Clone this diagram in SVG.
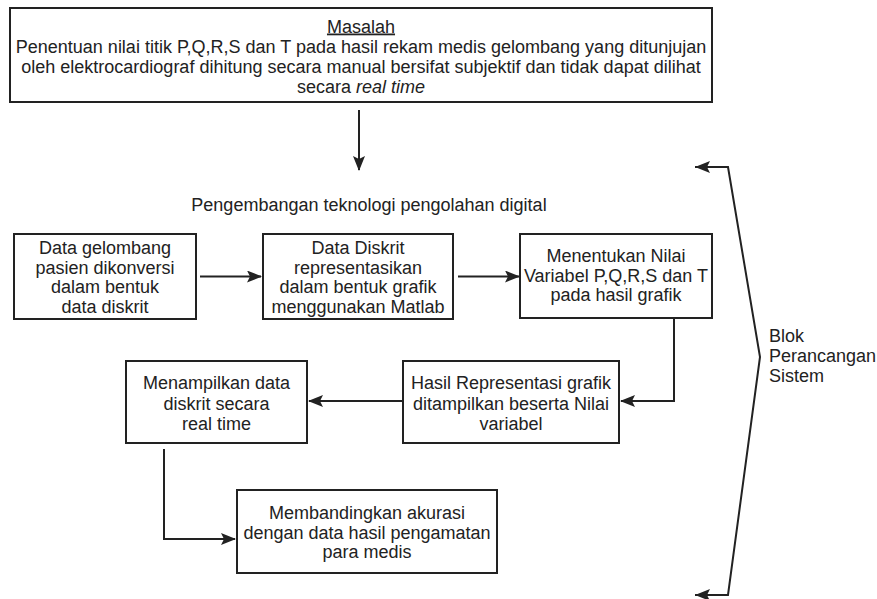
<svg xmlns="http://www.w3.org/2000/svg" width="877" height="599" viewBox="0 0 877 599">
<style>
.box{fill:#fff;stroke:#222;stroke-width:2}
.t{font-family:"Liberation Sans",Arial,sans-serif;font-size:18px;fill:#222;text-anchor:middle}
.tl{font-family:"Liberation Sans",Arial,sans-serif;font-size:18px;fill:#222}
.ln{fill:none;stroke:#222;stroke-width:2}
</style>
<defs>
<marker id="ah" markerWidth="15" markerHeight="12" refX="14" refY="6" orient="auto" markerUnits="userSpaceOnUse">
<path d="M0,0 L15,6 L0,12 L3,6 z" fill="#222"/>
</marker>
</defs>
<rect width="877" height="599" fill="#fff"/>
<g id="masalah">
<rect class="box" x="10" y="8" width="702" height="94"/>
<text class="t" x="361" y="32.5" text-decoration="underline">Masalah</text>
<text class="t" x="361" y="52.5">Penentuan nilai titik P,Q,R,S dan T pada hasil rekam medis gelombang yang ditunjujan</text>
<text class="t" x="361" y="72.5">oleh elektrocardiograf dihitung secara manual bersifat subjektif dan tidak dapat dilihat</text>
<text class="t" x="361" y="92.5">secara <tspan font-style="italic">real time</tspan></text>
</g>
<g id="pengembangan">
<text class="t" x="369" y="211">Pengembangan teknologi pengolahan digital</text>
</g>
<g id="data-gelombang">
<rect class="box" x="14" y="234" width="182" height="85"/>
<text class="t" x="105" y="254">Data gelombang</text>
<text class="t" x="105" y="273.5">pasien dikonversi</text>
<text class="t" x="105" y="293">dalam bentuk</text>
<text class="t" x="105" y="312.5">data diskrit</text>
</g>
<g id="data-diskrit">
<rect class="box" x="263" y="234" width="190" height="85"/>
<text class="t" x="358" y="254">Data Diskrit</text>
<text class="t" x="358" y="273.5">representasikan</text>
<text class="t" x="358" y="293">dalam bentuk grafik</text>
<text class="t" x="358" y="312.5">menggunakan Matlab</text>
</g>
<g id="menentukan">
<rect class="box" x="520" y="234" width="192" height="84"/>
<text class="t" x="616" y="262">Menentukan Nilai</text>
<text class="t" x="616" y="281.5">Variabel P,Q,R,S dan T</text>
<text class="t" x="616" y="301">pada hasil grafik</text>
</g>
<g id="hasil">
<rect class="box" x="403" y="361" width="216" height="82"/>
<text class="t" x="511" y="389">Hasil Representasi grafik</text>
<text class="t" x="511" y="409.5">ditampilkan beserta Nilai</text>
<text class="t" x="511" y="430">variabel</text>
</g>
<g id="menampilkan">
<rect class="box" x="126" y="361" width="181" height="82"/>
<text class="t" x="216.5" y="389">Menampilkan data</text>
<text class="t" x="216.5" y="409.5">diskrit secara</text>
<text class="t" x="216.5" y="430">real time</text>
</g>
<g id="membandingkan">
<rect class="box" x="237" y="490" width="260" height="83"/>
<text class="t" x="367" y="519">Membandingkan akurasi</text>
<text class="t" x="367" y="538.5">dengan data hasil pengamatan</text>
<text class="t" x="367" y="558">para medis</text>
</g>
<g id="blok">
<text class="tl" x="769" y="342">Blok</text>
<text class="tl" x="769" y="362">Perancangan</text>
<text class="tl" x="769" y="382">Sistem</text>
</g>
<g id="connectors">
<line class="ln" x1="359" y1="110" x2="359" y2="170" marker-end="url(#ah)"/>
<line class="ln" x1="200" y1="276.5" x2="261" y2="276.5" marker-end="url(#ah)"/>
<line class="ln" x1="458" y1="276.5" x2="519" y2="276.5" marker-end="url(#ah)"/>
<polyline class="ln" points="674,318 674,401 621,401" marker-end="url(#ah)"/>
<line class="ln" x1="403" y1="401" x2="309" y2="401" marker-end="url(#ah)"/>
<polyline class="ln" points="164,449 164,539 235,539" marker-end="url(#ah)"/>
<polyline class="ln" points="695,167 728,167 760,357 728,595 695,595"/>
<path d="M695,167 L710,161 L707,167 L710,173 z" fill="#222"/>
<path d="M695,595 L710,589 L707,595 L710,601 z" fill="#222"/>
</g>
</svg>
